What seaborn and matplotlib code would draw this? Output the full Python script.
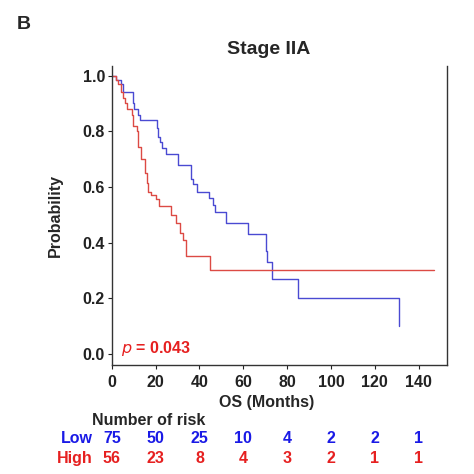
import matplotlib
matplotlib.use("Agg")
import matplotlib.pyplot as plt
import matplotlib.transforms as mtransforms
import pandas as pd
import seaborn as sns

# Kaplan-Meier steps (time in months, survival probability)
low_time = [0, 2, 4, 5, 9.5, 10, 12, 13, 20.5, 21, 22, 23, 24.5, 30, 36, 37, 39,
            44.5, 46, 47, 52, 62, 70.5, 71, 73, 85, 131]
low_surv = [1.0, 0.985, 0.97, 0.94, 0.90, 0.88, 0.86, 0.84, 0.81, 0.78, 0.76, 0.74,
            0.72, 0.68, 0.63, 0.61, 0.58, 0.56, 0.535, 0.51, 0.47, 0.43, 0.37, 0.33,
            0.27, 0.20, 0.10]
high_time = [0, 2, 3, 4, 5, 6, 7, 9, 9.5, 11.5, 12, 13.5, 15, 16, 16.5, 18, 20,
             21.5, 27, 29.5, 31, 32.5, 34, 45, 147]
high_surv = [1.0, 0.985, 0.97, 0.94, 0.92, 0.90, 0.88, 0.86, 0.82, 0.80, 0.745, 0.70,
             0.65, 0.615, 0.58, 0.57, 0.555, 0.53, 0.50, 0.47, 0.435, 0.41, 0.35,
             0.30, 0.30]

risk_times = [0, 20, 40, 60, 80, 100, 120, 140]
risk_low = [75, 50, 25, 10, 4, 2, 2, 1]
risk_high = [56, 23, 8, 4, 3, 2, 1, 1]

line_blue = "#4a4ad2"
line_red = "#dc4a44"
txt_blue = "#1a1ae6"
txt_red = "#e62020"
fs = 11.5

sns.set_style("white")
plt.rcParams["font.family"] = ["Liberation Sans", "DejaVu Sans"]

df = pd.concat([
    pd.DataFrame({"time": low_time, "surv": low_surv, "group": "Low"}),
    pd.DataFrame({"time": high_time, "surv": high_surv, "group": "High"}),
])

fig = plt.figure(figsize=(4.74, 4.74), dpi=100)
ax = fig.add_axes([0.236, 0.230, 0.707, 0.631])

sns.lineplot(data=df, x="time", y="surv", hue="group", estimator=None,
             palette={"Low": line_blue, "High": line_red}, drawstyle="steps-post",
             linewidth=1.0, legend=False, ax=ax)

ax.set_xlim(0, 153)
ax.set_ylim(-0.04, 1.035)
ax.set_xticks(risk_times)
ax.set_yticks([0.0, 0.2, 0.4, 0.6, 0.8, 1.0])
ax.set_yticklabels(["0.0", "0.2", "0.4", "0.6", "0.8", "1.0"])
for lab in ax.get_xticklabels() + ax.get_yticklabels():
    lab.set_fontweight("bold")
    lab.set_fontsize(fs)
ax.tick_params(axis="both", direction="out", length=3, width=0.8, pad=2,
               colors="#222222", left=True, bottom=True)
ax.tick_params(axis="x", pad=4)
ax.spines["top"].set_visible(False)
for s in ["left", "right", "bottom"]:
    ax.spines[s].set_color("#333333")
    ax.spines[s].set_linewidth(1.0)

ax.set_xlabel("OS (Months)", fontsize=fs, fontweight="bold")
ax.set_ylabel("Probability", fontsize=fs, fontweight="bold")
ax.xaxis.set_label_coords(0.463, -0.1)
ax.yaxis.set_label_coords(-0.145, 0.5)

ax.text(4, 0.02, r"$\it{p}$ = 0.043", color=txt_red, fontsize=fs, fontweight="bold",
        va="center", ha="left")

fig.text(0.036, 0.948, "B", fontsize=14, fontweight="bold", va="center")
fig.text(0.566, 0.895, "Stage IIA", fontsize=14, fontweight="bold",
         ha="center", va="center")

# number at risk table
tr = mtransforms.blended_transform_factory(ax.transData, fig.transFigure)
fig.text(0.194, 0.112, "Number of risk", fontsize=fs, fontweight="bold", va="center")
fig.text(0.196, 0.074, "Low", fontsize=fs, fontweight="bold", color=txt_blue,
         ha="right", va="center")
fig.text(0.196, 0.032, "High", fontsize=fs, fontweight="bold", color=txt_red,
         ha="right", va="center")
for t, lo, hi in zip(risk_times, risk_low, risk_high):
    ax.text(t, 0.074, str(lo), transform=tr, color=txt_blue, fontsize=fs,
            fontweight="bold", ha="center", va="center", clip_on=False)
    ax.text(t, 0.032, str(hi), transform=tr, color=txt_red, fontsize=fs,
            fontweight="bold", ha="center", va="center", clip_on=False)

fig.savefig("out.png", dpi=100)
